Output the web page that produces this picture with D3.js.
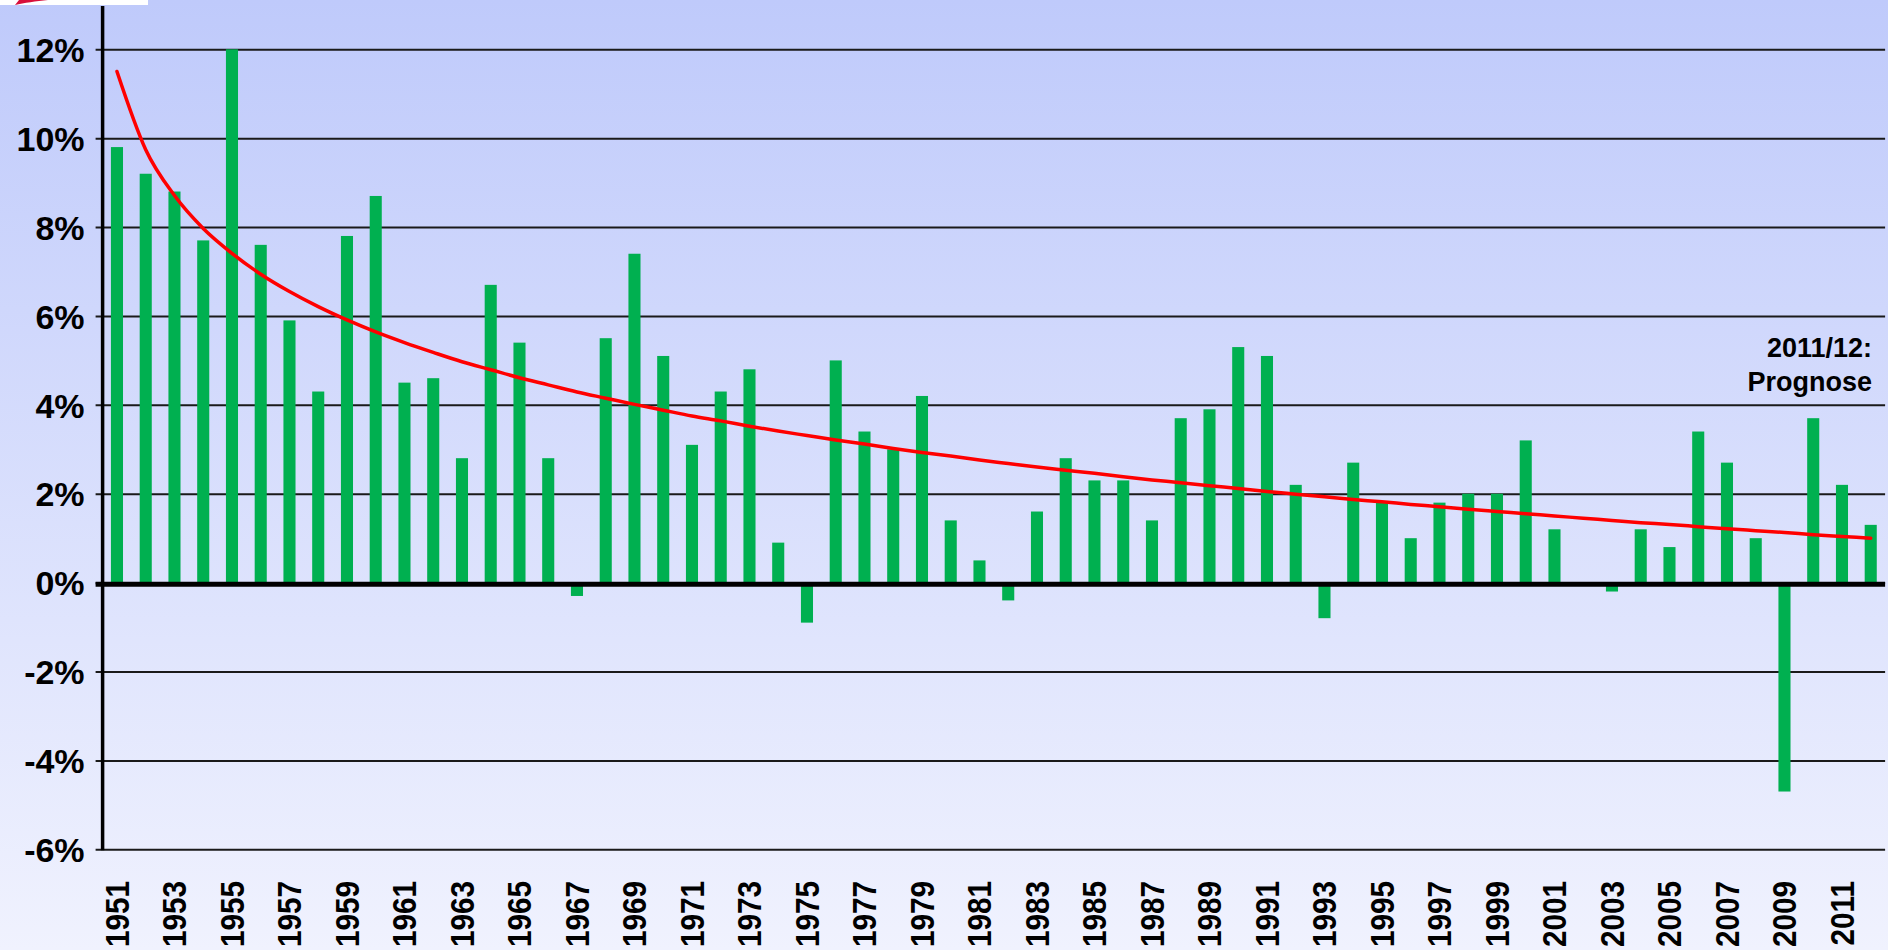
<!DOCTYPE html>
<html>

<head>
    <meta charset="UTF-8" />
    <title>Wachstum BIP</title>
    <script src="https://d3js.org/d3.v7.min.js"></script>
    <style>
        body {
            margin: 0;
            overflow: hidden;
        }

        text {
            font-family: "Liberation Sans", Arial, sans-serif;
            font-weight: bold;
            fill: #000;
        }
    </style>
</head>

<body>
    <svg id="chart" width="1888" height="950"></svg>

    <script>
        // years on the x axis (one bar each)
        var years = [1951, 1952, 1953, 1954, 1955, 1956, 1957, 1958, 1959, 1960,
            1961, 1962, 1963, 1964, 1965, 1966, 1967, 1968, 1969, 1970,
            1971, 1972, 1973, 1974, 1975, 1976, 1977, 1978, 1979, 1980,
            1981, 1982, 1983, 1984, 1985, 1986, 1987, 1988, 1989, 1990,
            1991, 1992, 1993, 1994, 1995, 1996, 1997, 1998, 1999, 2000,
            2001, 2002, 2003, 2004, 2005, 2006, 2007, 2008, 2009, 2010,
            2011, 2012];

        // growth rate in percent
        var growth = [9.8, 9.2, 8.8, 7.7, 12.0, 7.6, 5.9, 4.3, 7.8, 8.7,
            4.5, 4.6, 2.8, 6.7, 5.4, 2.8, -0.3, 5.5, 7.4, 5.1,
            3.1, 4.3, 4.8, 0.9, -0.9, 5.0, 3.4, 3.0, 4.2, 1.4,
            0.5, -0.4, 1.6, 2.8, 2.3, 2.3, 1.4, 3.7, 3.9, 5.3,
            5.1, 2.2, -0.8, 2.7, 1.8, 1.0, 1.8, 2.0, 2.0, 3.2,
            1.2, 0.0, -0.2, 1.2, 0.8, 3.4, 2.7, 1.0, -4.7, 3.7,
            2.2, 1.3];

        // red trend line at each year
        var trend = [11.50, 9.74, 8.71, 7.97, 7.41, 6.94, 6.55, 6.21, 5.91, 5.64,
            5.40, 5.18, 4.97, 4.79, 4.61, 4.45, 4.29, 4.15, 4.01, 3.88,
            3.75, 3.64, 3.52, 3.41, 3.31, 3.21, 3.12, 3.02, 2.93, 2.85,
            2.76, 2.68, 2.60, 2.53, 2.46, 2.38, 2.31, 2.25, 2.18, 2.12,
            2.05, 1.99, 1.93, 1.87, 1.82, 1.76, 1.71, 1.65, 1.60, 1.55,
            1.50, 1.45, 1.40, 1.35, 1.31, 1.26, 1.21, 1.17, 1.13, 1.08,
            1.04, 1.00];

        // axis labels
        var yTicks = [-6, -4, -2, 0, 2, 4, 6, 8, 10, 12];
        var xLabels = [1951, 1953, 1955, 1957, 1959, 1961, 1963, 1965, 1967, 1969,
            1971, 1973, 1975, 1977, 1979, 1981, 1983, 1985, 1987, 1989,
            1991, 1993, 1995, 1997, 1999, 2001, 2003, 2005, 2007, 2009, 2011];

        var noteLines = ['2011/12:', 'Prognose'];

        var svg = d3.select('#chart');
        var W = 1888, H = 950;

        // layout of the plot area (window.top is taken, so prefix these)
        var plotLeft = 102.6, plotRight = 1885.1, plotTop = 49.3, plotBottom = 849.3;

        // background gradient
        var defs = svg.append('defs');
        var grad = defs.append('linearGradient')
            .attr('id', 'bg')
            .attr('x1', 0).attr('y1', 0).attr('x2', 0).attr('y2', 1);
        grad.append('stop').attr('offset', '0%').attr('stop-color', '#bfcafb');
        grad.append('stop').attr('offset', '100%').attr('stop-color', '#f0f2fe');

        svg.append('rect')
            .attr('width', W).attr('height', H)
            .attr('fill', 'url(#bg)');

        // bit of the logo in the top left corner
        svg.append('rect')
            .attr('x', 0).attr('y', 0).attr('width', 148).attr('height', 5)
            .attr('fill', '#fff');
        svg.append('path')
            .attr('d', 'M15,5 L19,0 L48,0 C36,1 24,3 15,5 Z')
            .attr('fill', '#d8103c');

        var x = d3.scaleBand()
            .domain(years)
            .range([plotLeft, plotRight])
            .paddingInner(0.58)
            .paddingOuter(0.29);

        var y = d3.scaleLinear()
            .domain([-6, 12])
            .range([plotBottom, plotTop]);

        // gridlines + y labels
        var yAxis = d3.axisLeft(y)
            .tickValues(yTicks)
            .tickSize(-(plotRight - plotLeft + 7))
            .tickPadding(11)
            .tickFormat(function (d) { return d + '%'; });

        var gy = svg.append('g')
            .attr('transform', 'translate(' + (plotLeft - 7) + ',0)')
            .call(yAxis);
        gy.select('.domain').remove();
        gy.selectAll('.tick line')
            .attr('stroke', '#1a1a1a')
            .attr('stroke-width', 2);
        gy.selectAll('.tick text')
            .style('font-size', '34px')
            .attr('dy', '0.36em');

        // bars
        svg.append('g')
            .selectAll('rect')
            .data(growth)
            .enter()
            .append('rect')
            .attr('x', function (d, i) { return x(years[i]); })
            .attr('width', x.bandwidth())
            .attr('y', function (d) { return y(Math.max(0, d)); })
            .attr('height', function (d) { return Math.abs(y(d) - y(0)); })
            .attr('fill', '#00b050');

        // zero line
        svg.append('line')
            .attr('x1', plotLeft - 7).attr('x2', plotRight)
            .attr('y1', y(0) + 1.5).attr('y2', y(0) + 1.5)
            .attr('stroke', '#000')
            .attr('stroke-width', 5);

        // y axis line
        svg.append('line')
            .attr('x1', plotLeft).attr('x2', plotLeft)
            .attr('y1', 6).attr('y2', plotBottom + 1)
            .attr('stroke', '#000')
            .attr('stroke-width', 3.5);

        // trend line
        var line = d3.line()
            .x(function (d, i) { return x(years[i]) + x.bandwidth() / 2; })
            .y(function (d) { return y(d); })
            .curve(d3.curveMonotoneX);

        svg.append('path')
            .datum(trend)
            .attr('d', line)
            .attr('fill', 'none')
            .attr('stroke', '#ff0000')
            .attr('stroke-width', 3.5)
            .attr('stroke-linejoin', 'round')
            .attr('stroke-linecap', 'round');

        // x labels, rotated and a little condensed
        svg.append('g')
            .selectAll('text')
            .data(xLabels)
            .enter()
            .append('text')
            .attr('transform', function (d) {
                return 'translate(' + (x(d) + x.bandwidth() / 2) + ',881) rotate(-90) scale(0.9,1)';
            })
            .attr('text-anchor', 'end')
            .attr('dy', '0.36em')
            .style('font-size', '33px')
            .text(function (d) { return d; });

        // forecast note
        svg.append('g')
            .selectAll('text')
            .data(noteLines)
            .enter()
            .append('text')
            .attr('x', 1872)
            .attr('y', function (d, i) { return 357 + i * 34; })
            .attr('text-anchor', 'end')
            .style('font-size', '27px')
            .text(function (d) { return d; });
    </script>
</body>

</html>
